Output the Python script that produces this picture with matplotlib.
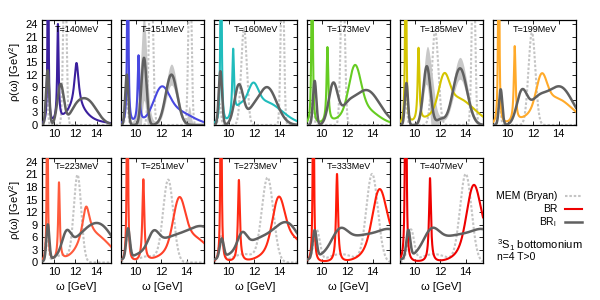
import numpy as np
import matplotlib
matplotlib.use("Agg")
import matplotlib.pyplot as plt

matplotlib.rcParams["font.family"] = ["Liberation Sans", "DejaVu Sans"]
matplotlib.rcParams["mathtext.fontset"] = "custom"
matplotlib.rcParams["mathtext.rm"] = "Liberation Sans"
matplotlib.rcParams["mathtext.it"] = "Liberation Sans:italic"

# temperatures and BR colours per panel
TEMPS = [140, 151, 160, 173, 185, 199, 223, 251, 273, 333, 407]
COLORS = ["#3b1f9e", "#4848e0", "#20bcbc", "#66cc22", "#d4c400", "#ffaa2a",
          "#ff5a3c", "#ff4028", "#ff2a14", "#ff1a08", "#ee0000"]

# BR spectral peaks: (omega, height, width, shape) L=lorentz, G=gauss
BR_PEAKS = [
    [(9.42, 80, 0.04, "L"), (10.35, 23, 0.08, "L"), (12.1, 11, 0.25, "L"), (12.0, 3.2, 0.9, "G"), (13.5, 0.8, 1.5, "G")],
    [(9.38, 80, 0.04, "L"), (10.22, 16, 0.08, "L"), (12.0, 6.5, 0.6, "G"), (13.0, 3.5, 1.3, "G")],
    [(9.40, 80, 0.04, "L"), (10.35, 16, 0.08, "L"), (11.9, 5.5, 0.4, "G"), (12.8, 5.5, 1.35, "G"), (10.9, 2.5, 0.4, "G")],
    [(9.25, 80, 0.04, "L"), (10.45, 18, 0.08, "L"), (12.6, 10, 0.45, "G"), (13.0, 4.5, 1.2, "G")],
    [(9.30, 80, 0.04, "L"), (10.30, 17.5, 0.08, "L"), (12.3, 7, 0.4, "G"), (13.2, 6.5, 1.4, "G")],
    [(9.30, 80, 0.04, "L"), (10.55, 18, 0.08, "L"), (12.65, 7, 0.4, "G"), (13.6, 6.5, 1.45, "G")],
    [(9.35, 80, 0.04, "L"), (10.45, 18.5, 0.09, "L"), (13.0, 9, 0.45, "L"), (14.0, 5.5, 1.4, "G")],
    [(9.35, 80, 0.04, "L"), (10.60, 19.5, 0.09, "L"), (13.4, 10, 0.45, "G"), (14.2, 6.5, 1.4, "G")],
    [(9.40, 80, 0.04, "L"), (10.80, 19.5, 0.09, "L"), (13.9, 10, 0.45, "G"), (14.6, 6.5, 1.3, "G")],
    [(9.35, 80, 0.04, "L"), (11.20, 21, 0.09, "L"), (14.5, 11, 0.5, "G"), (15.0, 7, 1.2, "G")],
    [(9.30, 120, 0.04, "L"), (11.20, 20, 0.09, "L"), (14.6, 12, 0.5, "G"), (15.1, 7, 1.2, "G")],
]

# BR_l peaks (gaussian): (omega, height, sigma)
BRL_PEAKS = [
    [(9.38, 13, 0.15), (10.6, 9.5, 0.3), (13.1, 5.8, 0.9), (12.0, 2.2, 0.6)],
    [(9.30, 12, 0.12), (10.65, 16, 0.2), (12.8, 12, 0.45)],
    [(9.35, 12.8, 0.13), (10.8, 9.5, 0.35), (13.0, 9, 0.75), (11.8, 1.8, 0.4)],
    [(9.45, 10.5, 0.13), (10.9, 9.5, 0.35), (13.5, 8.3, 1.05), (12.0, 2.5, 0.5)],
    [(9.35, 10, 0.12), (10.95, 14, 0.28), (13.55, 13.5, 0.55), (12.0, 1.2, 0.3)],
    [(9.45, 8.5, 0.13), (11.1, 7.2, 0.4), (14.1, 9, 1.0), (12.3, 5, 0.7)],
    [(9.40, 8.5, 0.14), (11.15, 4.2, 0.4), (14.5, 7, 1.3), (12.5, 4.8, 1.5)],
    [(9.40, 7, 0.14), (11.4, 3.5, 0.4), (13.5, 6.5, 2.2), (15.5, 4, 1.0)],
    [(9.45, 4.5, 0.15), (11.05, 3.5, 0.35), (13.0, 6, 2.0), (14.7, 5.2, 0.9)],
    [(9.45, 6.5, 0.15), (11.4, 4, 0.6), (13.5, 6.5, 2.2), (15.6, 3.5, 0.9)],
    [(9.50, 6.5, 0.15), (11.3, 4.2, 0.6), (13.5, 6.5, 2.2), (15.6, 3.5, 0.9)],
]

# BR_l error band half-widths (gaussian bumps), panels without entry have none
BRL_ERR = {
    1: [(10.6, 10, 0.35), (12.8, 2.2, 0.5), (9.3, 3, 0.15), (14.2, 4, 0.12)],
    4: [(10.95, 3, 0.3), (11.4, 6, 0.25), (13.55, 2.3, 0.6)],
}

# MEM (Bryan) peaks (gaussian): (omega, height, sigma)
MEM_PEAKS = [
    [(9.30, 8, 0.1), (11.0, 40, 0.15)],
    [(9.30, 6, 0.1), (11.2, 40, 0.15), (14.25, 40, 0.12)],
    [(9.30, 5, 0.1), (11.2, 23, 0.22), (14.2, 40, 0.12)],
    [(9.30, 6, 0.1), (11.65, 40, 0.15)],
    [(9.30, 6, 0.1), (11.6, 22.5, 0.25), (14.6, 40, 0.13)],
    [(9.35, 6, 0.1), (11.9, 22, 0.27)],
    [(9.30, 6.5, 0.15), (12.2, 20.5, 0.35), (10.8, 1.8, 0.8)],
    [(9.40, 6.5, 0.18), (12.55, 19.5, 0.4), (11.0, 1.5, 0.8)],
    [(9.40, 6, 0.18), (13.05, 20, 0.45), (11.2, 2, 0.9)],
    [(9.60, 7.5, 0.25), (13.95, 21, 0.45), (11.5, 2, 1.0)],
    [(9.70, 7.5, 0.25), (14.0, 21, 0.45), (11.5, 2, 1.0)],
]

W_MIN, W_MAX = 8.85, 15.35
YTICKS = [0, 3, 6, 9, 12, 15, 18, 21, 24]
XTICKS = [10, 12, 14]
BRL_COLOR = "#606060"
MEM_COLOR = "#c4c4c4"
BAND_COLOR = "#c8c8c8"


def gauss_sum(w, peaks):
    y = np.zeros_like(w)
    for c, h, s in peaks:
        y += h * np.exp(-(w - c) ** 2 / (2 * s * s))
    return y


def br_sum(w, peaks):
    y = np.zeros_like(w)
    for c, h, s, kind in peaks:
        if kind == "L":
            y += h / (1 + ((w - c) / s) ** 2)
        else:
            y += h * np.exp(-(w - c) ** 2 / (2 * s * s))
    return y


fig = plt.figure(figsize=(6, 3), dpi=100)

col_px = [(42, 111), (121, 204), (214, 297), (307, 390), (400, 483), (493, 576)]
row_px = [(20, 125), (157.5, 262.5)]

w = np.linspace(W_MIN, W_MAX, 3000)

for i, T in enumerate(TEMPS):
    row, col = divmod(i, 6)
    x0, x1 = col_px[col]
    y0, y1 = row_px[row]
    ax = fig.add_axes([x0 / 600, 1 - y1 / 300, (x1 - x0) / 600, (y1 - y0) / 300])

    brl = gauss_sum(w, BRL_PEAKS[i])
    if i in BRL_ERR:
        err = gauss_sum(w, BRL_ERR[i]) + 0.3
        ax.fill_between(w, np.clip(brl - err, 0, None), brl + err,
                        color=BAND_COLOR, lw=0, zorder=1)
    ax.plot(w, gauss_sum(w, MEM_PEAKS[i]), color=MEM_COLOR, lw=1.5,
            ls=(0, (1.2, 0.9)), zorder=2)
    ax.plot(w, br_sum(w, BR_PEAKS[i]), color=COLORS[i], lw=1.5, zorder=3)
    ax.plot(w, brl, color=BRL_COLOR, lw=1.8, zorder=4)

    ax.set_xlim(W_MIN, W_MAX)
    ax.set_ylim(0, 25)
    ax.set_xticks(XTICKS)
    ax.set_yticks(YTICKS)
    ax.tick_params(direction="in", length=3, width=0.6, top=True, right=True,
                   labelsize=8, pad=3)
    if col != 0:
        ax.set_yticklabels([])
    else:
        ax.set_ylabel(r"ρ(ω) [GeV$^2$]", fontsize=8, labelpad=2)
    if row == 1:
        ax.set_xlabel("ω [GeV]", fontsize=8, labelpad=4)
    for sp in ax.spines.values():
        sp.set_linewidth(0.9)
    ax.text(0.5, 0.955, "T=%dMeV" % T, transform=ax.transAxes, ha="center",
            va="top", fontsize=6.5)

# legend in the free cell
lx_text, lx0, lx1 = 557 / 600, 565 / 600, 582 / 600
entries = [("MEM (Bryan)", MEM_COLOR, (0, (1.2, 0.9)), 1.5, 196),
           ("BR", "#ee0000", "-", 1.5, 209),
           (r"BR$_\mathregular{l}$", BRL_COLOR, "-", 1.8, 222)]
for label, c, ls, lw, ypx in entries:
    yy = 1 - ypx / 300
    fig.text(lx_text, yy, label, ha="right", va="center", fontsize=7.5)
    fig.add_artist(plt.Line2D([lx0, lx1], [yy, yy], color=c, ls=ls, lw=lw,
                              transform=fig.transFigure))

fig.text(497 / 600, 1 - 245 / 300, r"$^\mathregular{3}$S$_\mathregular{1}$ bottomonium",
         ha="left", va="center", fontsize=8)
fig.text(497 / 600, 1 - 257 / 300, "n=4 T>0", ha="left", va="center", fontsize=7.5)

fig.savefig("out.png", dpi=100)
